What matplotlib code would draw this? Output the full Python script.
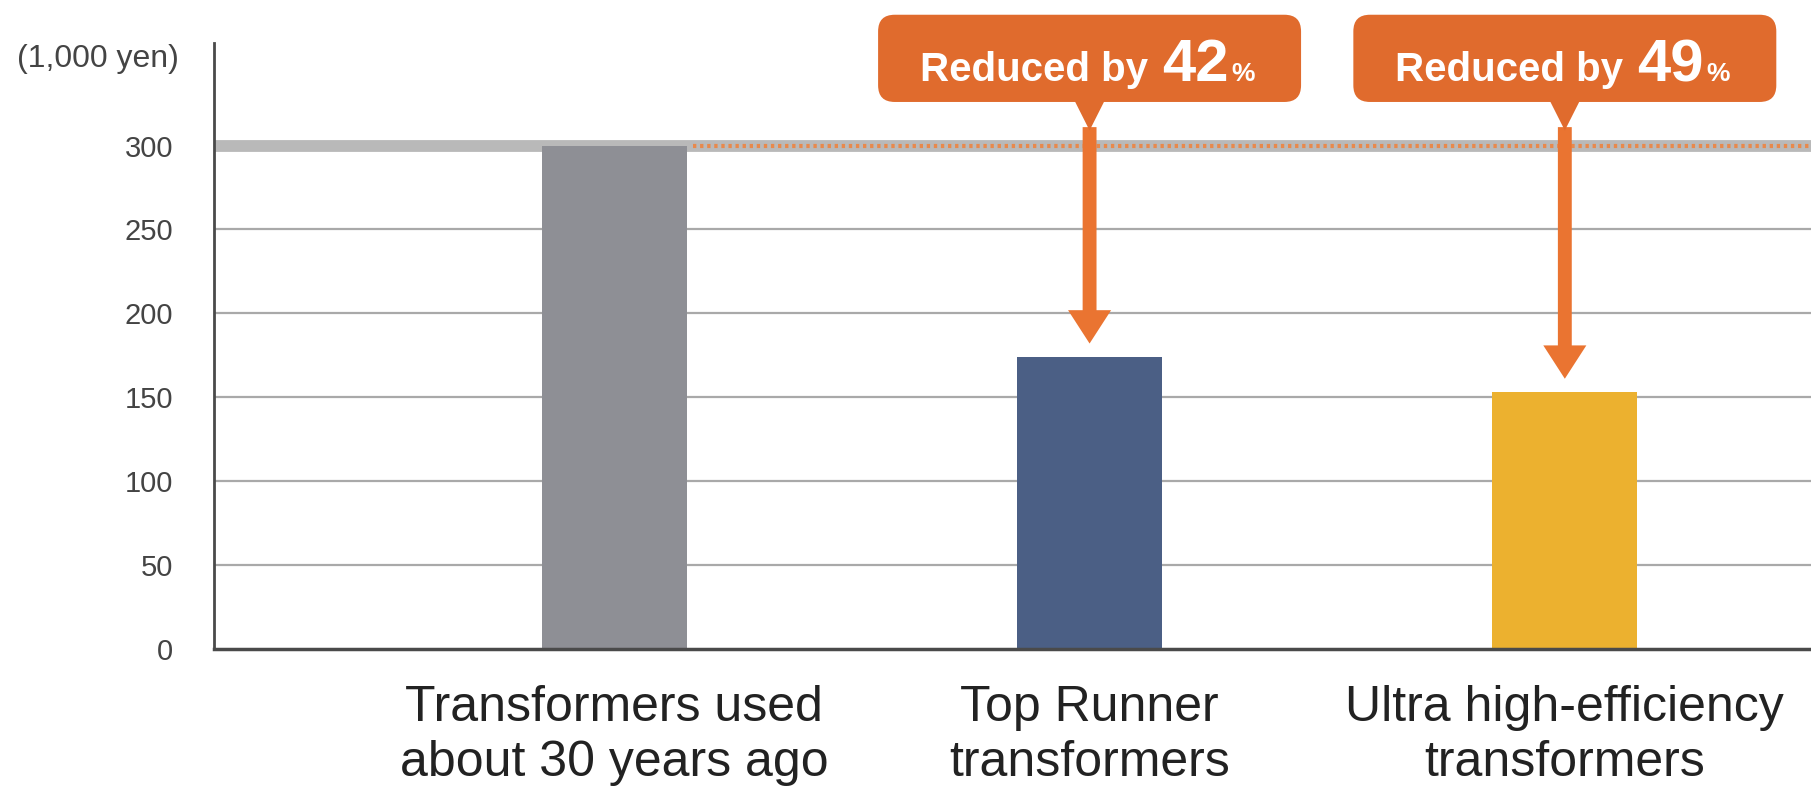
import matplotlib
matplotlib.use("Agg")
import matplotlib.pyplot as plt
from matplotlib.patches import FancyBboxPatch, Polygon, FancyArrowPatch
from matplotlib.offsetbox import TextArea, HPacker, AnnotationBbox

# Annual cost of electricity loss per transformer
categories = [
    "Transformers used\nabout 30 years ago",
    "Top Runner\ntransformers",
    "Ultra high-efficiency\ntransformers",
]
costs = [300, 174, 153]          # 1,000 yen
reductions = [None, 42, 49]      # % lower than the old transformer
bar_colors = ["#8E8F95", "#4B5F85", "#ECB12F"]
yticks = [0, 50, 100, 150, 200, 250, 300]
unit_label = "(1,000 yen)"

orange = "#E06B2D"
arrow_orange = "#EA7431"
font = ["Liberation Sans", "DejaVu Sans"]

fig = plt.figure(figsize=(18.11, 8.01), dpi=100)
ax = fig.add_axes([0.118, 0.19, 0.882, 0.756])
ax.set_xlim(-0.843, 2.518)
ax.set_ylim(0, 361)

# grid
for y in yticks[1:-1]:
    ax.axhline(y, color="#A9A9A9", lw=1.6, zorder=0)
ax.axhline(yticks[-1], color="#B9B9B9", lw=8.5, zorder=1)

x = list(range(len(categories)))
bar_w = 0.305
ax.bar(x, costs, width=bar_w, color=bar_colors, zorder=2)

# dotted reference at the old transformer's level
ax.plot([x[0] + bar_w / 2 + 0.012, 2.518], [costs[0], costs[0]],
        color="#E8894C", lw=3, ls=(0, (0.8, 0.9)), zorder=3, solid_capstyle="butt")

# callouts
box_w, box_bot, box_top = 0.89, 326, 378
aspect = 283
for xi, c, r in zip(x, costs, reductions):
    if r is None:
        continue
    box = FancyBboxPatch((xi - box_w / 2, box_bot), box_w, box_top - box_bot,
                         boxstyle="round,pad=0,rounding_size=0.035",
                         mutation_aspect=aspect, fc=orange, ec="none",
                         clip_on=False, zorder=6)
    ax.add_patch(box)
    ax.add_patch(Polygon([(xi - 0.032, box_bot + 1), (xi + 0.032, box_bot + 1), (xi, 309)],
                         closed=True, fc=orange, ec="none", clip_on=False, zorder=6))
    arr = FancyArrowPatch((xi, 311), (xi, c + 8),
                          arrowstyle="simple,head_length=24,head_width=31,tail_width=10",
                          mutation_scale=1, color=arrow_orange, lw=0,
                          shrinkA=0, shrinkB=0, zorder=5)
    ax.add_patch(arr)
    parts = [
        TextArea("Reduced by ", textprops=dict(color="white", fontsize=29, weight="bold", family=font)),
        TextArea(f"{r}", textprops=dict(color="white", fontsize=43, weight="bold", family=font)),
        TextArea("%", textprops=dict(color="white", fontsize=19, weight="bold", family=font)),
    ]
    pack = HPacker(children=parts, align="baseline", pad=0, sep=2)
    ab = AnnotationBbox(pack, (xi - 0.005, 347.5), xycoords="data", frameon=False,
                        box_alignment=(0.5, 0.5), annotation_clip=False, zorder=7)
    ax.add_artist(ab)

# axes styling
for s in ["top", "right"]:
    ax.spines[s].set_visible(False)
ax.spines["left"].set_color("#4A4A4A")
ax.spines["left"].set_linewidth(2)
ax.spines["bottom"].set_color("#4A4A4A")
ax.spines["bottom"].set_linewidth(2.5)
ax.spines["bottom"].set_zorder(4)

ax.set_yticks(yticks)
ax.set_yticklabels([str(v) for v in yticks], fontsize=21, color="#444444", family=font)
ax.tick_params(axis="y", length=0, pad=29)
ax.set_xticks(x)
ax.set_xticklabels(categories, fontsize=36, color="#222222", family=font, linespacing=1.25)
ax.tick_params(axis="x", length=0, pad=26)

fig.text(17 / 1811, 0.926, unit_label, ha="left", va="center", fontsize=23,
         color="#444444", family=font)

fig.savefig("out.png", dpi=100, facecolor="white")
